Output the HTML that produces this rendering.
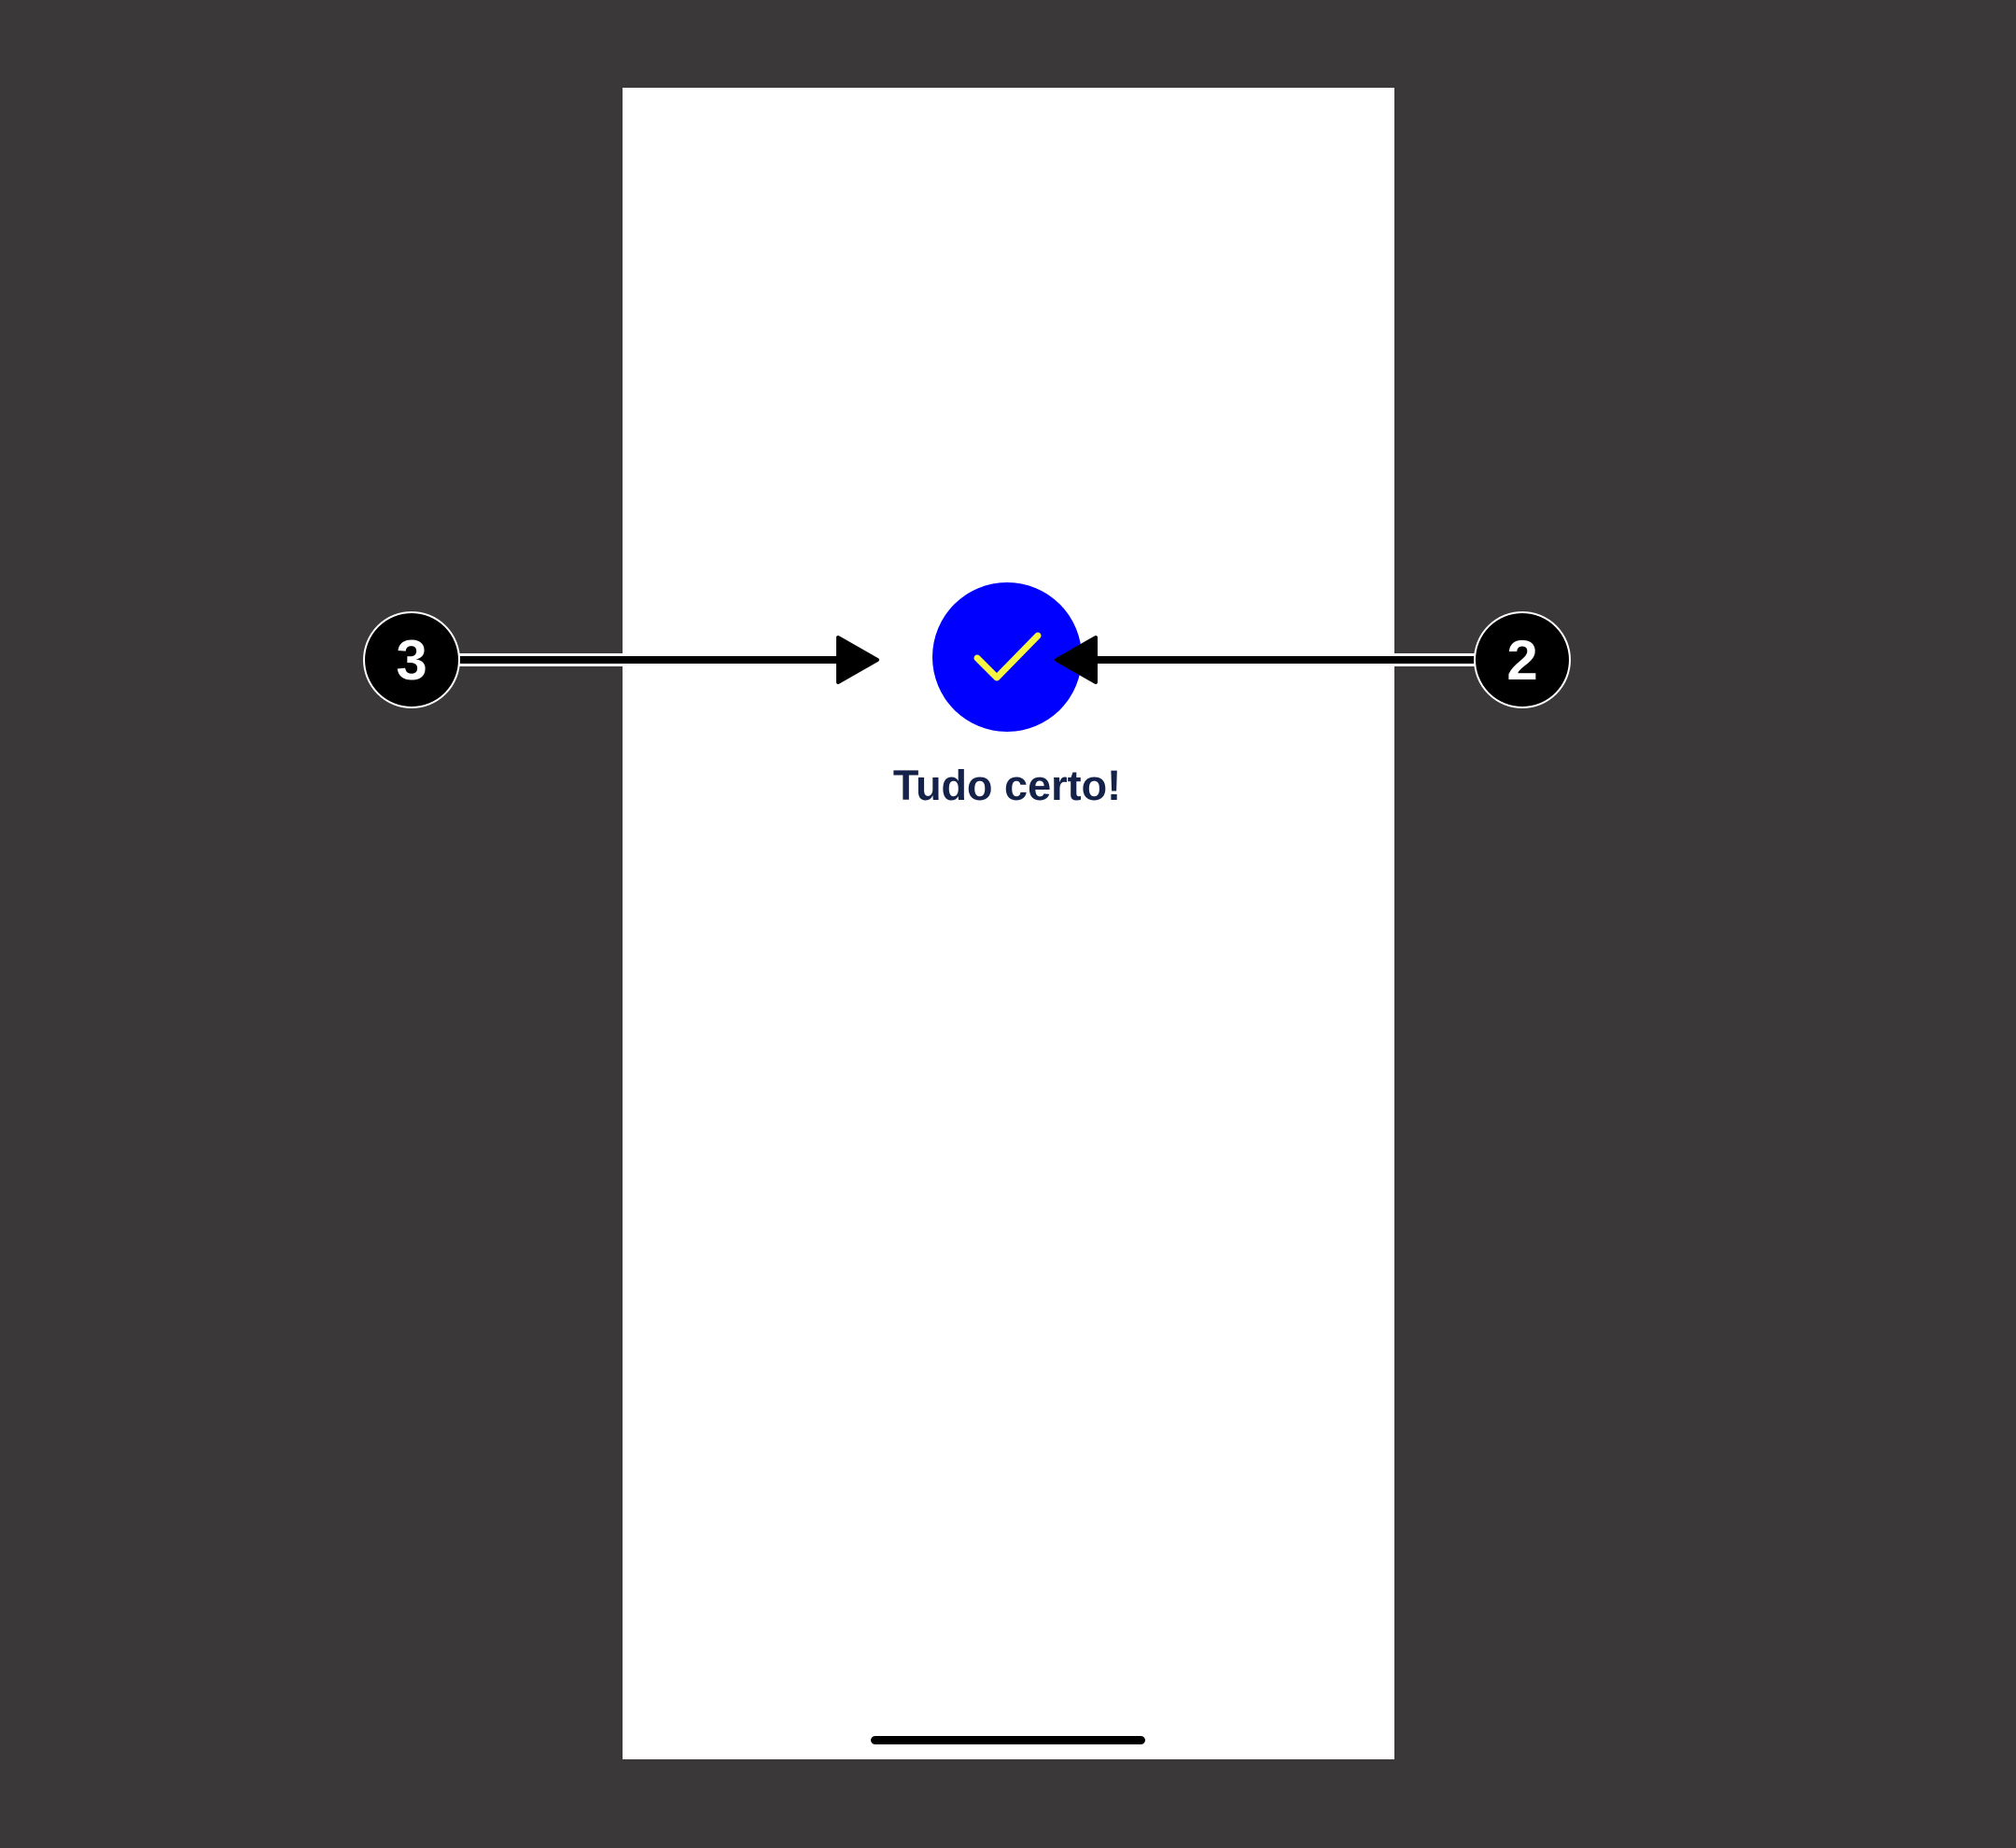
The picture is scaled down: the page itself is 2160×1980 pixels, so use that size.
<!DOCTYPE html>
<html><head><meta charset="utf-8"><style>
html,body{margin:0;padding:0;background:#3a3839;width:2160px;height:1980px;overflow:hidden}
</style></head><body>
<svg width="2160" height="1980" xmlns="http://www.w3.org/2000/svg">
<rect x="0" y="0" width="2160" height="1980" fill="#3a3839"/>
<rect x="667" y="94" width="827" height="1791" fill="#ffffff"/>
<circle cx="1079" cy="704" r="80" fill="#0000ff"/>
<polyline points="1047,705 1068,726 1112,681" fill="none" stroke="#f5f542" stroke-width="7" stroke-linecap="round" stroke-linejoin="round"/>
<text x="1079" y="857" text-anchor="middle" font-family="Liberation Sans, sans-serif" font-size="45" font-weight="bold" fill="#14224a">Tudo certo!</text>
<rect x="933" y="1860" width="294" height="9" rx="4.5" fill="#000"/>
<g>
<rect x="488" y="700" width="420" height="14" fill="#fff"/>
<rect x="490" y="703" width="420" height="8" fill="#000"/>
<polygon points="898,683 940,707 898,731" fill="#000" stroke="#000" stroke-width="4" stroke-linejoin="round"/>
<circle cx="441" cy="707" r="51" fill="#000" stroke="#fff" stroke-width="2"/>
<text x="441" y="728" text-anchor="middle" font-family="Liberation Sans, sans-serif" font-size="60" font-weight="bold" fill="#fff">3</text>
</g>
<g>
<rect x="1172" y="700" width="412" height="14" fill="#fff"/>
<rect x="1170" y="703" width="412" height="8" fill="#000"/>
<polygon points="1174,683 1132,707 1174,731" fill="#000" stroke="#000" stroke-width="4" stroke-linejoin="round"/>
<circle cx="1631" cy="707" r="51" fill="#000" stroke="#fff" stroke-width="2"/>
<text x="1631" y="728" text-anchor="middle" font-family="Liberation Sans, sans-serif" font-size="60" font-weight="bold" fill="#fff">2</text>
</g>
</svg>
</body></html>
